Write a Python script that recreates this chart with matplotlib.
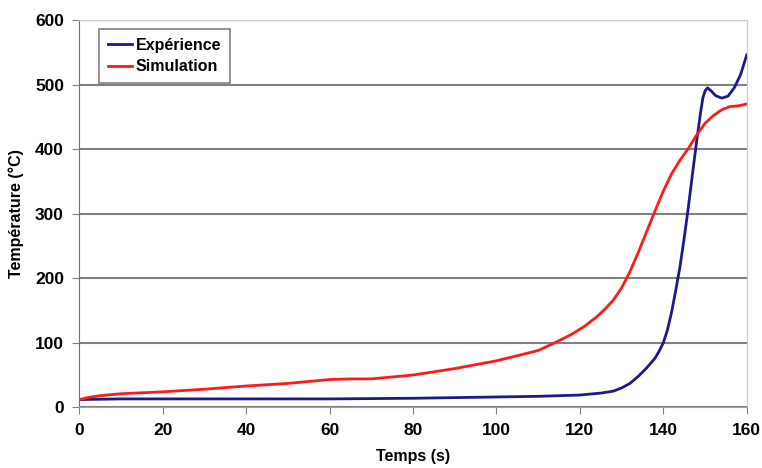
import matplotlib.pyplot as plt

# Expérience (mesure)
t_exp = [0, 10, 20, 40, 60, 80, 100, 110, 120, 125, 128, 130, 132, 134, 136, 138, 139,
         140, 141, 142, 143, 144, 145, 146, 147, 148, 149, 149.5, 150, 150.6, 151.5,
         152.5, 154, 155.5, 157, 158.5, 160]
T_exp = [12, 13, 13, 13, 13, 14, 16, 17, 19, 22, 25, 30, 37, 48, 61, 76, 87,
         100, 120, 148, 182, 218, 262, 310, 362, 413, 460, 480, 490, 495, 490,
         483, 479, 482, 495, 515, 546]

# Simulation
t_sim = [0, 2, 5, 10, 20, 30, 40, 50, 60, 65, 70, 80, 90, 100, 105, 110, 114, 118,
         121, 124, 126, 128, 130, 132, 134, 136, 138, 140, 142, 144, 146, 148, 150,
         152, 154, 156, 158, 160]
T_sim = [12, 15, 18, 21, 24, 28, 33, 37, 43, 44, 44, 50, 60, 72, 80, 88, 100, 113,
         125, 140, 152, 166, 185, 210, 240, 272, 304, 335, 362, 383, 401, 422, 440,
         452, 461, 466, 467, 470]

plt.rcParams['font.family'] = ['Liberation Sans', 'DejaVu Sans']
plt.rcParams['font.weight'] = 'bold'

fig = plt.figure(figsize=(7.62, 4.68), dpi=100)
ax = fig.add_axes([0.104, 0.1297, 0.876, 0.8275])

ax.plot(t_exp, T_exp, color='#1a1a8a', lw=2, label='Expérience')
ax.plot(t_sim, T_sim, color='#ff1a1a', lw=2, label='Simulation')

ax.set_xlim(0, 160)
ax.set_ylim(0, 600)
ax.set_xticks(range(0, 161, 20))
ax.set_yticks(range(0, 601, 100))
ax.grid(axis='y', color='#808080', lw=1.5)
ax.set_axisbelow(True)

for s in ['top', 'right']:
    ax.spines[s].set_color('#c8c8c8')
ax.spines['left'].set_color('#707070')
ax.spines['bottom'].set_color('#a0a0a0')
ax.tick_params(direction='out', length=5, color='#808080', labelsize=12.5, pad=6)
for lab in ax.get_xticklabels() + ax.get_yticklabels():
    lab.set_fontweight('bold')

ax.set_xlabel('Temps (s)', fontsize=11.5, fontweight='bold', labelpad=8)
ax.set_ylabel('Température (°C)', fontsize=11.5, fontweight='bold', labelpad=8)

leg = ax.legend(loc='upper left', bbox_to_anchor=(0.018, 0.997), fancybox=False,
                edgecolor='#808080', framealpha=1, fontsize=11.5, handlelength=1.5,
                handletextpad=0.25, borderpad=0.55, labelspacing=0.4)
leg.get_frame().set_linewidth(1.2)
for txt in leg.get_texts():
    txt.set_fontweight('bold')

fig.savefig('out.png', dpi=100)
